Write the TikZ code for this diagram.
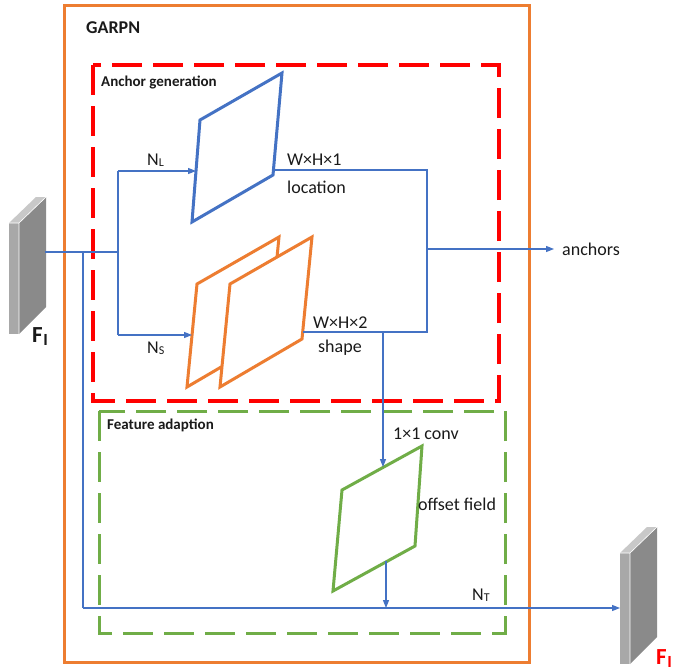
\documentclass[tikz,border=0pt]{standalone}
\usepackage{fontspec}
\setmainfont{Carlito}
\usetikzlibrary{arrows.meta}
\definecolor{orangec}{HTML}{ED7D31}
\definecolor{redc}{HTML}{FF0000}
\definecolor{greenc}{HTML}{70AD47}
\definecolor{bluec}{HTML}{4472C4}
\definecolor{slabfront}{HTML}{A8A8A8}
\definecolor{slabside}{HTML}{8A8A8A}
\definecolor{slabtop}{HTML}{C8C8C8}
\definecolor{txt}{HTML}{1A1A1A}
\tikzset{
  frame/.style={orangec, line width=3pt},
  dashbox/.style={line width=#1, dash pattern=on 30pt off 11pt},
  plate/.style={draw=#1, line width=3pt, line join=miter, fill=white},
  link/.style={bluec, line width=1.1pt},
  flow/.style={link, -{Triangle[length=8pt,width=6pt]}},
  lbl/.style={anchor=base west, inner sep=0pt, text=txt, font=\fontsize{18}{18}\selectfont},
  title/.style={anchor=base west, inner sep=0pt, text=txt, font=\bfseries\fontsize{15}{15}\selectfont},
  slab/.pic={
    \fill[slabfront] (0,0) rectangle (10,111);
    \fill[slabside] (10,0) -- (37,-26) -- (37,84) -- (10,111) -- cycle;
    \fill[slabtop] (0,0) -- (27,-26) -- (37,-26) -- (10,0) -- cycle;
    \draw[white, line width=0.6pt] (10,0) -- (10,111) (0,0) -- (10,0) -- (37,-26);
  }
}
\newcommand{\subs}[1]{\raisebox{-1pt}{\fontsize{12}{12}\selectfont #1}}
\begin{document}
\begin{tikzpicture}[x=1pt,y=-1pt]
\useasboundingbox[fill=white] (0,0) rectangle (673,670);

% module frames
\draw[frame] (64,5) rectangle (529,662);
\draw[redc, dashbox=4pt] (93,65) rectangle (499,401);
\draw[greenc, dashbox=3pt] (99,411) rectangle (505,633);

\node[anchor=base west, inner sep=0pt, text=txt, font=\bfseries\fontsize{18}{18}\selectfont] (garpn) at (86,33) {GARPN};
\node[title] (agen) at (101,86) {Anchor generation};
\node[title] (fadp) at (107,429) {Feature adaption};

% input and output feature maps
\pic (fin) at (9,223) {slab};
\pic (fout) at (620,553) {slab};
\node[anchor=base west, inner sep=0pt, text=txt, font=\bfseries\fontsize{23}{23}\selectfont] (finlbl) at (32,342)
  {F\kern0.5pt\raisebox{-3pt}{\fontsize{17}{17}\selectfont I}};
\node[anchor=base west, inner sep=0pt, text=redc, font=\bfseries\fontsize{23}{23}\selectfont] (foutlbl) at (656,664)
  {F\kern0.5pt\raisebox{-3pt}{\fontsize{17}{17}\selectfont I}};

% location branch
\draw[plate=bluec] (200,120) -- (282,73) -- (273,175) -- (192,222) -- cycle;
% shape branch (two channels)
\draw[plate=orangec] (197,284) -- (279,237) -- (269,339) -- (187,387) -- cycle;
\draw[plate=orangec] (230,284) -- (312,237) -- (302,339) -- (220,387) -- cycle;
% offset field
\draw[plate=greenc] (342,490) -- (422,446) -- (415,546) -- (333,591) -- cycle;

% connector points
\coordinate (src) at (45,252);
\coordinate (tap) at (83,252);
\coordinate (split) at (118,252);
\coordinate (nl) at (118,171);
\coordinate (ns) at (118,335);
\coordinate (locin) at (196,171);
\coordinate (shpin) at (192,335);
\coordinate (locout) at (273,170);
\coordinate (locr) at (427,170);
\coordinate (shpout) at (303,332);
\coordinate (shpr) at (427,332);
\coordinate (merge) at (427,249);
\coordinate (anch) at (554,249);
\coordinate (shpdown) at (383,332);
\coordinate (offin) at (383,467);
\coordinate (offout) at (386,561);
\coordinate (tbot) at (83,608);
\coordinate (tjoin) at (386,608);
\coordinate (fin) at (620,608);

\draw[link] (src) -- (split);
\draw[link] (nl) -- (ns);
\draw[flow] (nl) -- (locin);
\draw[flow] (ns) -- (shpin);
\draw[link] (locout) -- (locr) -- (shpr) -- (shpout);
\draw[flow] (merge) -- (anch);
\draw[flow] (shpdown) -- (offin);
\draw[flow] (offout) -- (tjoin);
\draw[link] (tap) -- (tbot);
\draw[flow] (tbot) -- (fin);

% labels
\node[lbl] (lnl) at (147,165) {N\subs{L}};
\node[lbl] (lns) at (147,353) {N\subs{S}};
\node[lbl] (lwh1) at (287,165) {W×H×1};
\node[lbl] (lloc) at (287,193) {location};
\node[lbl] (lwh2) at (313,328) {W×H×2};
\node[lbl] (lshp) at (318,352) {shape};
\node[lbl] (lanc) at (562,255) {anchors};
\node[lbl] (lconv) at (393,439) {1×1 conv};
\node[lbl] (loff) at (418,510) {offset field};
\node[lbl] (lnt) at (472,600) {N\subs{T}};
\end{tikzpicture}
\end{document}
